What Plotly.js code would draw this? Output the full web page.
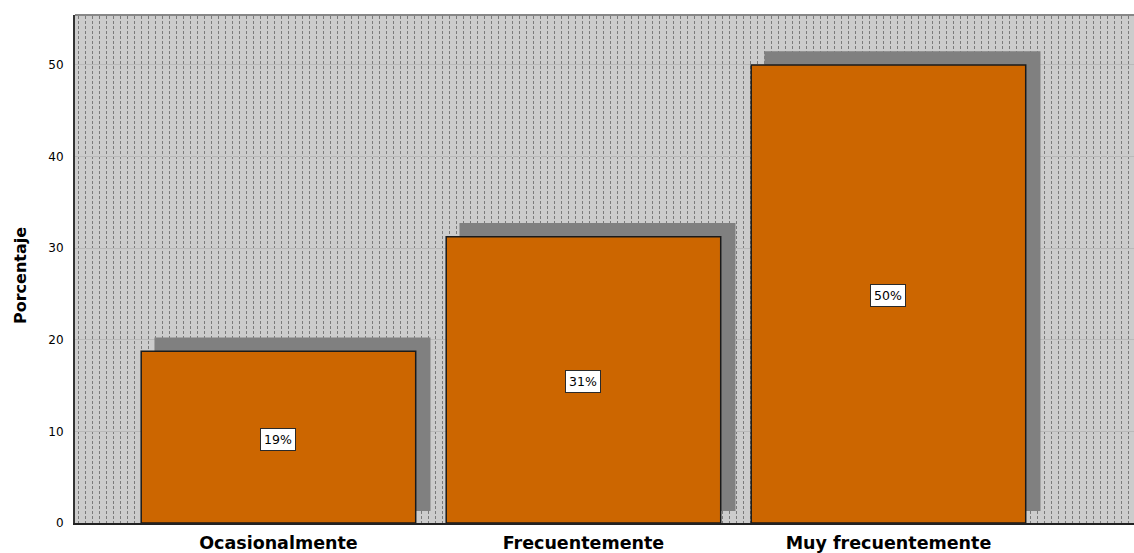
<!DOCTYPE html>
<html>
<head>
<meta charset="utf-8">
<script src="https://cdn.plot.ly/plotly-3.0.1.min.js"></script>
<style>html,body{margin:0;padding:0;background:#fff;}#chart{width:1134px;height:553px;}</style>
</head>
<body>
<div id="chart"></div>
<script>
// Data
const categories = ["Ocasionalmente", "Frecuentemente", "Muy frecuentemente"];
const percentages = [18.75, 31.25, 50];
const barLabels = ["19%", "31%", "50%"];
const yTicks = [0, 10, 20, 30, 40, 50];
const yTitle = "Porcentaje";

// Layout geometry / style
const W = 1134, H = 553;
const M = {l: 75, r: 0, t: 15, b: 30};
const PW = W - M.l - M.r, PH = H - M.t - M.b;
const SHADOW_DX = 0.046, SHADOW_BASE = 1.3, SHADOW_EXTRA = 0.2;
const FONT = "DejaVu Sans, Verdana, sans-serif";

const idx = categories.map((c, i) => i);

// dotted background pattern (vertical dotted lines)
const dotsSvg = `<svg xmlns="http://www.w3.org/2000/svg" width="${PW}" height="${PH}" viewBox="0 0 ${PW} ${PH}" preserveAspectRatio="none" shape-rendering="crispEdges">
<defs><pattern id="p" x="3" y="1" width="7" height="5" patternUnits="userSpaceOnUse"><rect x="0" y="0" width="1" height="3" fill="#7a7a7a"/></pattern></defs>
<rect width="${PW}" height="${PH}" fill="url(#p)"/></svg>`;
const dotsUri = "data:image/svg+xml;charset=utf-8," + encodeURIComponent(dotsSvg);

const shadow = {
  type: "bar",
  x: idx.map(i => i + SHADOW_DX),
  y: percentages.map(v => v + SHADOW_EXTRA),
  base: percentages.map(() => SHADOW_BASE),
  width: 0.905,
  marker: {color: "#808080", line: {width: 0}},
  hoverinfo: "skip",
  showlegend: false
};
const bars = {
  type: "bar",
  x: idx,
  y: percentages,
  width: 0.9,
  marker: {color: "#cc6600", line: {color: "#1a1a1a", width: 1.5}},
  showlegend: false
};

const annotations = idx.map(i => ({
  x: i, y: percentages[i] / 2, xref: "x", yref: "y", yshift: -2,
  text: barLabels[i], showarrow: false,
  font: {family: FONT, size: 12.5, color: "#000"},
  bgcolor: "#ffffff", bordercolor: "#2a2a2a", borderwidth: 1, borderpad: 3
}));
annotations.push({
  xref: "paper", yref: "paper", x: -55 / PW, y: 1 - (276 - M.t) / PH,
  xanchor: "center", yanchor: "middle", textangle: -90, showarrow: false,
  text: yTitle, font: {family: FONT, size: 16, weight: "bold", color: "#000"}
});

const layout = {
  width: W, height: H,
  margin: M,
  paper_bgcolor: "#ffffff",
  plot_bgcolor: "#cccccc",
  barmode: "overlay",
  showlegend: false,
  font: {family: FONT, color: "#000"},
  xaxis: {
    type: "linear",
    range: [-0.667, 2.805],
    tickvals: idx,
    ticktext: categories,
    tickfont: {size: 17.5, family: FONT, weight: "bold"},
    showgrid: false, zeroline: false,
    showline: true, linecolor: "#222", linewidth: 1.5,
    ticks: "", ticklabelstandoff: 3
  },
  yaxis: {
    range: [0, 55.45],
    tickvals: yTicks,
    tickfont: {size: 12, family: FONT},
    showgrid: true, gridcolor: "#b9b9b9", gridwidth: 1,
    zeroline: false,
    showline: true, linecolor: "#333", linewidth: 2,
    ticks: "", ticklabelstandoff: 7
  },
  shapes: [{
    type: "line", xref: "paper", yref: "paper", x0: 0, x1: 1, y0: 1, y1: 1,
    line: {color: "#888", width: 2}
  }],
  images: [{
    source: dotsUri, xref: "paper", yref: "paper", x: 0, y: 1,
    sizex: 1, sizey: 1, sizing: "stretch", xanchor: "left", yanchor: "top", layer: "below"
  }],
  annotations: annotations
};

Plotly.newPlot("chart", [shadow, bars], layout, {displayModeBar: false, staticPlot: true});
</script>
</body>
</html>
